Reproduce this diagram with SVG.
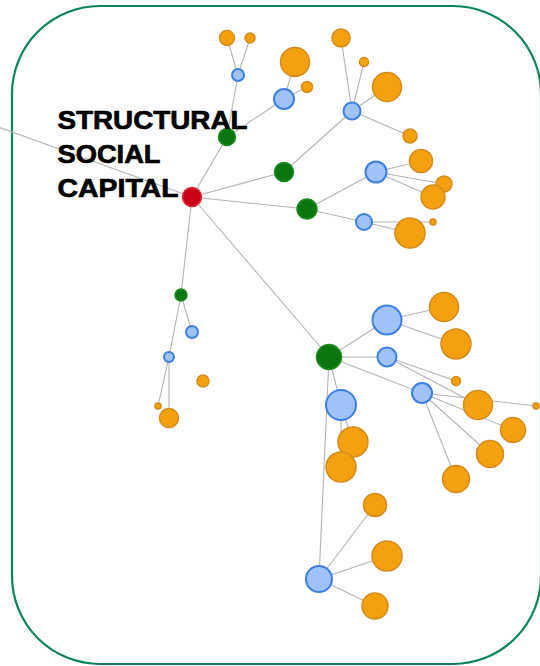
<svg xmlns="http://www.w3.org/2000/svg" width="540" height="666" viewBox="0 0 540 666">
<style>
.e{stroke:#b4b4b4;stroke-width:1.1;fill:none}
.o{fill:#f5a10f;stroke:#d38c1c;stroke-width:1.5}
.b{fill:#9fc3f8;stroke:#3d7fe3;stroke-width:2}
.g{fill:#0b760f;stroke:#1f8a22;stroke-width:1.5}
.r{fill:#cc0014;stroke:#d8303a;stroke-width:1.5}
.t{font-family:"Liberation Sans",Arial,sans-serif;font-weight:bold;font-size:26px;fill:#000;stroke:#000;stroke-width:0.7}
</style>
<rect x="12" y="6" width="529" height="658" rx="88" ry="88" fill="#fff" stroke="#0b8457" stroke-width="2.2"/>
<g id="connectors">
<line class="e" x1="-10" y1="124" x2="192" y2="197"/>
<line class="e" x1="192" y1="197" x2="227" y2="137"/>
<line class="e" x1="227" y1="137" x2="238" y2="75"/>
<line class="e" x1="238" y1="75" x2="227" y2="38"/>
<line class="e" x1="238" y1="75" x2="250" y2="38"/>
<line class="e" x1="227" y1="137" x2="284" y2="99"/>
<line class="e" x1="284" y1="99" x2="295" y2="62"/>
<line class="e" x1="284" y1="99" x2="307" y2="87"/>
<line class="e" x1="192" y1="197" x2="284" y2="172"/>
<line class="e" x1="284" y1="172" x2="352" y2="111"/>
<line class="e" x1="352" y1="111" x2="341" y2="38"/>
<line class="e" x1="352" y1="111" x2="364" y2="62"/>
<line class="e" x1="352" y1="111" x2="387" y2="87"/>
<line class="e" x1="352" y1="111" x2="410" y2="136"/>
<line class="e" x1="192" y1="197" x2="307" y2="209"/>
<line class="e" x1="307" y1="209" x2="376" y2="172"/>
<line class="e" x1="376" y1="172" x2="421" y2="161"/>
<line class="e" x1="376" y1="172" x2="444" y2="184"/>
<line class="e" x1="376" y1="172" x2="433" y2="197"/>
<line class="e" x1="307" y1="209" x2="364" y2="222"/>
<line class="e" x1="364" y1="222" x2="410" y2="233"/>
<line class="e" x1="364" y1="222" x2="433" y2="222"/>
<line class="e" x1="192" y1="197" x2="181" y2="295"/>
<line class="e" x1="181" y1="295" x2="192" y2="332"/>
<line class="e" x1="181" y1="295" x2="169" y2="357"/>
<line class="e" x1="169" y1="357" x2="158" y2="406"/>
<line class="e" x1="169" y1="357" x2="169" y2="418"/>
<line class="e" x1="192" y1="197" x2="329" y2="357"/>
<line class="e" x1="329" y1="357" x2="387" y2="320"/>
<line class="e" x1="387" y1="320" x2="444" y2="307"/>
<line class="e" x1="387" y1="320" x2="456" y2="344"/>
<line class="e" x1="329" y1="357" x2="387" y2="357"/>
<line class="e" x1="387" y1="357" x2="456" y2="381"/>
<line class="e" x1="387" y1="357" x2="478" y2="405"/>
<line class="e" x1="329" y1="357" x2="422" y2="393"/>
<line class="e" x1="422" y1="393" x2="536" y2="406"/>
<line class="e" x1="422" y1="393" x2="513" y2="430"/>
<line class="e" x1="422" y1="393" x2="490" y2="454"/>
<line class="e" x1="422" y1="393" x2="456" y2="479"/>
<line class="e" x1="329" y1="357" x2="341" y2="405"/>
<line class="e" x1="341" y1="405" x2="353" y2="442"/>
<line class="e" x1="341" y1="405" x2="341" y2="467"/>
<line class="e" x1="329" y1="357" x2="319" y2="579"/>
<line class="e" x1="319" y1="579" x2="375" y2="505"/>
<line class="e" x1="319" y1="579" x2="387" y2="556"/>
<line class="e" x1="319" y1="579" x2="375" y2="606"/>
</g>
<g id="n-o1"><circle class="o" cx="227" cy="38" r="7.5"/></g>
<g id="n-o2"><circle class="o" cx="250" cy="38" r="5"/></g>
<g id="n-b1"><circle class="b" cx="238" cy="75" r="6"/></g>
<g id="n-g1"><circle class="g" cx="227" cy="137" r="8.5"/></g>
<g id="n-o3"><circle class="o" cx="295" cy="62" r="14.5"/></g>
<g id="n-o4"><circle class="o" cx="307" cy="87" r="5.5"/></g>
<g id="n-b2"><circle class="b" cx="284" cy="99" r="10"/></g>
<g id="n-g2"><circle class="g" cx="284" cy="172" r="9.5"/></g>
<g id="n-o5"><circle class="o" cx="341" cy="38" r="9"/></g>
<g id="n-o6"><circle class="o" cx="364" cy="62" r="4.5"/></g>
<g id="n-o7"><circle class="o" cx="387" cy="87" r="14.5"/></g>
<g id="n-o8"><circle class="o" cx="410" cy="136" r="7"/></g>
<g id="n-b3"><circle class="b" cx="352" cy="111" r="8.5"/></g>
<g id="n-g3"><circle class="g" cx="307" cy="209" r="10"/></g>
<g id="n-o9"><circle class="o" cx="421" cy="161" r="11.5"/></g>
<g id="n-o10"><circle class="o" cx="444" cy="184" r="8"/></g>
<g id="n-o11"><circle class="o" cx="433" cy="197" r="12"/></g>
<g id="n-b4"><circle class="b" cx="376" cy="172" r="10.5"/></g>
<g id="n-o12"><circle class="o" cx="410" cy="233" r="15"/></g>
<g id="n-o13"><circle class="o" cx="433" cy="222" r="3"/></g>
<g id="n-b5"><circle class="b" cx="364" cy="222" r="8"/></g>
<g id="n-g4"><circle class="g" cx="181" cy="295" r="6"/></g>
<g id="n-b6"><circle class="b" cx="192" cy="332" r="6"/></g>
<g id="n-b7"><circle class="b" cx="169" cy="357" r="5"/></g>
<g id="n-o14"><circle class="o" cx="203" cy="381" r="6"/></g>
<g id="n-o15"><circle class="o" cx="158" cy="406" r="3"/></g>
<g id="n-o16"><circle class="o" cx="169" cy="418" r="9.5"/></g>
<g id="n-o17"><circle class="o" cx="444" cy="307" r="14.5"/></g>
<g id="n-o18"><circle class="o" cx="456" cy="344" r="15"/></g>
<g id="n-b8"><circle class="b" cx="387" cy="320" r="14.5"/></g>
<g id="n-o19"><circle class="o" cx="456" cy="381" r="4.5"/></g>
<g id="n-b9"><circle class="b" cx="387" cy="357" r="9.5"/></g>
<g id="n-o20"><circle class="o" cx="478" cy="405" r="14.5"/></g>
<g id="n-o21"><circle class="o" cx="536" cy="406" r="3"/></g>
<g id="n-o22"><circle class="o" cx="513" cy="430" r="12.5"/></g>
<g id="n-o23"><circle class="o" cx="490" cy="454" r="13.5"/></g>
<g id="n-o24"><circle class="o" cx="456" cy="479" r="13.5"/></g>
<g id="n-b10"><circle class="b" cx="422" cy="393" r="10"/></g>
<g id="n-o25"><circle class="o" cx="353" cy="442" r="15"/></g>
<g id="n-o26"><circle class="o" cx="341" cy="467" r="15"/></g>
<g id="n-b11"><circle class="b" cx="341" cy="405" r="15"/></g>
<g id="n-g5"><circle class="g" cx="329" cy="357" r="12.5"/></g>
<g id="n-o27"><circle class="o" cx="375" cy="505" r="11.5"/></g>
<g id="n-o28"><circle class="o" cx="387" cy="556" r="15"/></g>
<g id="n-o29"><circle class="o" cx="375" cy="606" r="13"/></g>
<g id="n-b12"><circle class="b" cx="319" cy="579" r="13"/></g>
<g id="n-red">
<circle class="r" cx="192" cy="197" r="9.5"/>
</g>
<g id="label">
<text class="t" x="57.5" y="129.3" textLength="190" lengthAdjust="spacingAndGlyphs">STRUCTURAL</text>
<text class="t" x="57.5" y="163.3" textLength="103" lengthAdjust="spacingAndGlyphs">SOCIAL</text>
<text class="t" x="57.5" y="196.7" textLength="121" lengthAdjust="spacingAndGlyphs">CAPITAL</text>
</g>
</svg>
